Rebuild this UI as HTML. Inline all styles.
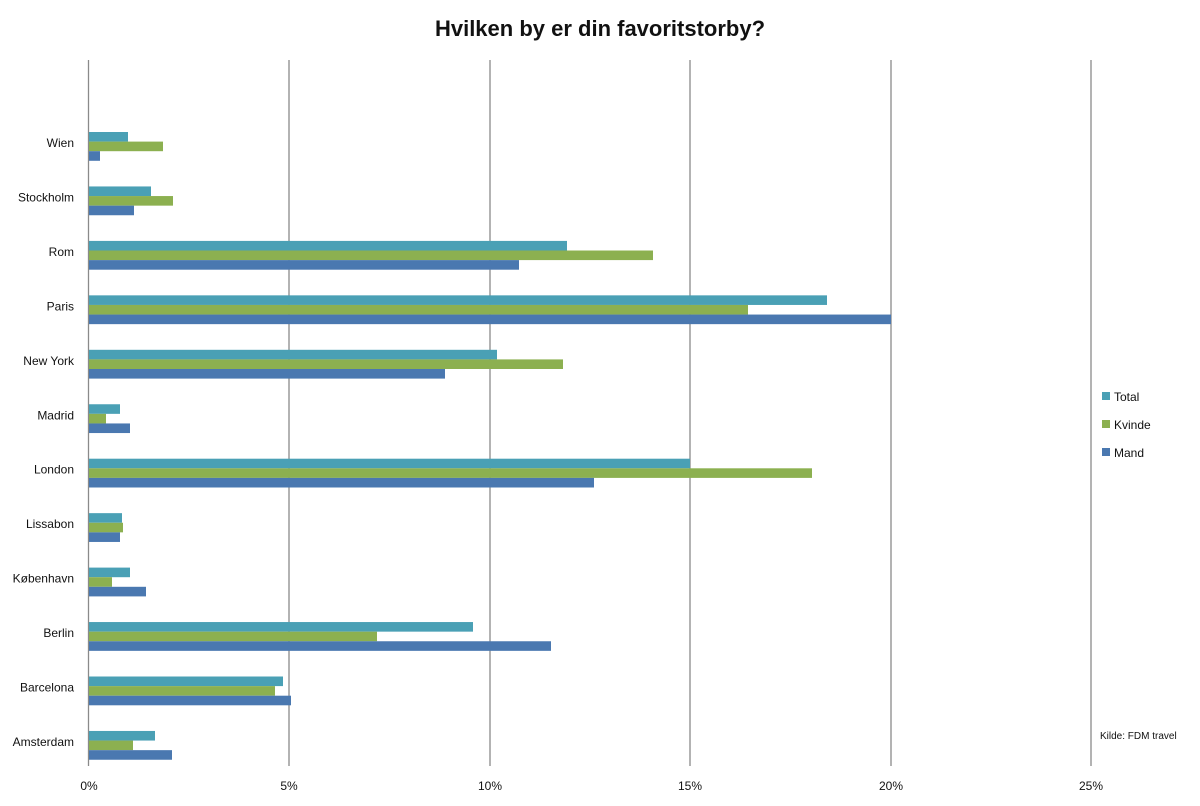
<!DOCTYPE html>
<html><head><meta charset="utf-8"><style>
body{margin:0;background:#fff;}
svg text{font-family:"Liberation Sans",sans-serif;fill:#111;}
</style></head><body>
<svg width="1200" height="801" xmlns="http://www.w3.org/2000/svg">
<rect width="1200" height="801" fill="#fff"/>
<text x="600" y="36" font-size="22" font-weight="bold" text-anchor="middle">Hvilken by er din favoritstorby?</text>
<g stroke="#8a8a8a" stroke-width="1.3">
<line x1="88.5" y1="60" x2="88.5" y2="766"/>
<line x1="289" y1="60" x2="289" y2="766"/>
<line x1="490" y1="60" x2="490" y2="766"/>
<line x1="690" y1="60" x2="690" y2="766"/>
<line x1="891" y1="60" x2="891" y2="766"/>
<line x1="1091" y1="60" x2="1091" y2="766"/>
</g>
<g font-size="12" text-anchor="middle">
<text x="89" y="790">0%</text><text x="289" y="790">5%</text><text x="490" y="790">10%</text>
<text x="690" y="790">15%</text><text x="891" y="790">20%</text><text x="1091" y="790">25%</text>
</g>
<g>
<rect x="89" y="132" width="39" height="9.6" fill="#4aa0b5"/><rect x="89" y="141.6" width="74" height="9.6" fill="#8cb050"/><rect x="89" y="151.2" width="11" height="9.6" fill="#4a78b0"/>
<rect x="89" y="186.45" width="62" height="9.6" fill="#4aa0b5"/><rect x="89" y="196.05" width="84" height="9.6" fill="#8cb050"/><rect x="89" y="205.65" width="45" height="9.6" fill="#4a78b0"/>
<rect x="89" y="240.9" width="478" height="9.6" fill="#4aa0b5"/><rect x="89" y="250.5" width="564" height="9.6" fill="#8cb050"/><rect x="89" y="260.1" width="430" height="9.6" fill="#4a78b0"/>
<rect x="89" y="295.35" width="738" height="9.6" fill="#4aa0b5"/><rect x="89" y="304.95" width="659" height="9.6" fill="#8cb050"/><rect x="89" y="314.55" width="802" height="9.6" fill="#4a78b0"/>
<rect x="89" y="349.8" width="408" height="9.6" fill="#4aa0b5"/><rect x="89" y="359.4" width="474" height="9.6" fill="#8cb050"/><rect x="89" y="369" width="356" height="9.6" fill="#4a78b0"/>
<rect x="89" y="404.25" width="31" height="9.6" fill="#4aa0b5"/><rect x="89" y="413.85" width="17" height="9.6" fill="#8cb050"/><rect x="89" y="423.45" width="41" height="9.6" fill="#4a78b0"/>
<rect x="89" y="458.7" width="601" height="9.6" fill="#4aa0b5"/><rect x="89" y="468.3" width="723" height="9.6" fill="#8cb050"/><rect x="89" y="477.9" width="505" height="9.6" fill="#4a78b0"/>
<rect x="89" y="513.15" width="33" height="9.6" fill="#4aa0b5"/><rect x="89" y="522.75" width="34" height="9.6" fill="#8cb050"/><rect x="89" y="532.35" width="31" height="9.6" fill="#4a78b0"/>
<rect x="89" y="567.6" width="41" height="9.6" fill="#4aa0b5"/><rect x="89" y="577.2" width="23" height="9.6" fill="#8cb050"/><rect x="89" y="586.8" width="57" height="9.6" fill="#4a78b0"/>
<rect x="89" y="622.05" width="384" height="9.6" fill="#4aa0b5"/><rect x="89" y="631.65" width="288" height="9.6" fill="#8cb050"/><rect x="89" y="641.25" width="462" height="9.6" fill="#4a78b0"/>
<rect x="89" y="676.5" width="194" height="9.6" fill="#4aa0b5"/><rect x="89" y="686.1" width="186" height="9.6" fill="#8cb050"/><rect x="89" y="695.7" width="202" height="9.6" fill="#4a78b0"/>
<rect x="89" y="730.95" width="66" height="9.6" fill="#4aa0b5"/><rect x="89" y="740.55" width="44" height="9.6" fill="#8cb050"/><rect x="89" y="750.15" width="83" height="9.6" fill="#4a78b0"/>
</g>
<g font-size="12" text-anchor="end">
<text x="74" y="147">Wien</text>
<text x="74" y="201.5">Stockholm</text>
<text x="74" y="256">Rom</text>
<text x="74" y="310.4">Paris</text>
<text x="74" y="364.8">New York</text>
<text x="74" y="419.3">Madrid</text>
<text x="74" y="473.7">London</text>
<text x="74" y="528.2">Lissabon</text>
<text x="74" y="582.6">København</text>
<text x="74" y="637">Berlin</text>
<text x="74" y="691.5">Barcelona</text>
<text x="74" y="746">Amsterdam</text>
</g>
<rect x="1102" y="392" width="8" height="8" fill="#4aa0b5"/><text x="1114" y="401" font-size="12">Total</text>
<rect x="1102" y="420" width="8" height="8" fill="#8cb050"/><text x="1114" y="429" font-size="12">Kvinde</text>
<rect x="1102" y="448" width="8" height="8" fill="#4a78b0"/><text x="1114" y="457" font-size="12">Mand</text>
<text x="1100" y="739" font-size="10">Kilde: FDM travel</text>
</svg>
</body></html>
